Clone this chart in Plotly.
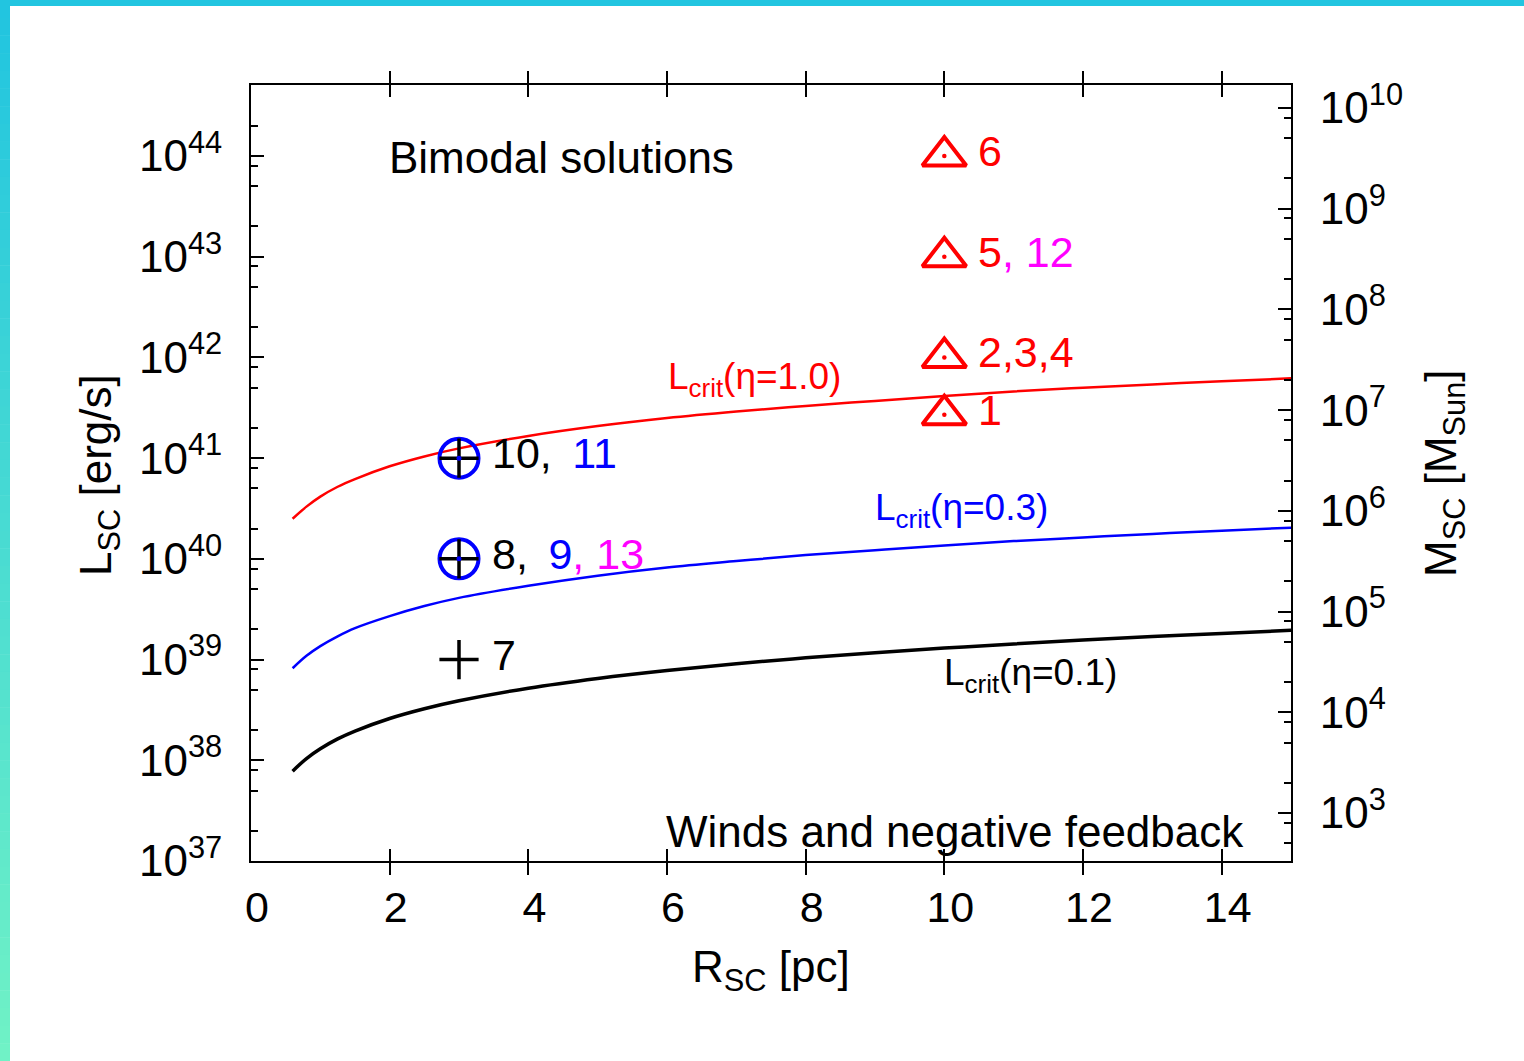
import numpy as np
import plotly.graph_objects as go

# ---------------- data ----------------
R_curve = [0.6, 0.8, 1.0, 1.25, 1.5, 2.0, 2.5, 3.0, 4.0, 5.0, 6.0, 7.0, 8.0, 9.0,
           10.0, 11.0, 12.0, 13.0, 14.0, 15.0]
L_eta10 = [2.5e40, 3.3e40, 4.15e40, 5.2e40, 6.2e40, 8.3e40, 1.04e41, 1.25e41, 1.66e41,
           2.08e41, 2.5e41, 2.9e41, 3.3e41, 3.7e41, 4.15e41, 4.6e41, 5.0e41, 5.4e41,
           5.8e41, 6.2e41]
L_eta03 = [8.2e38, 1.09e39, 1.36e39, 1.7e39, 2.05e39, 2.7e39, 3.4e39, 4.1e39, 5.4e39,
           6.8e39, 8.2e39, 9.5e39, 1.09e40, 1.22e40, 1.36e40, 1.5e40, 1.63e40, 1.77e40,
           1.9e40, 2.04e40]
L_eta01 = [7.8e37, 1.04e38, 1.3e38, 1.63e38, 1.95e38, 2.6e38, 3.25e38, 3.9e38, 5.2e38,
           6.5e38, 7.8e38, 9.1e38, 1.04e39, 1.17e39, 1.3e39, 1.43e39, 1.56e39, 1.69e39,
           1.82e39, 1.95e39]

tri_R = [10, 10, 10, 10]
tri_L = [2.7e41, 1e42, 1e43, 1e44]
tri_labels = ['<span style="color:#ff0000">1</span>',
              '<span style="color:#ff0000">2,3,4</span>',
              '<span style="color:#ff0000">5</span><span style="color:#ff00ff">, 12</span>',
              '<span style="color:#ff0000">6</span>']

circ_R = [3, 3]
circ_L = [1e41, 1e40]
circ_labels = ['<span style="color:#000000">10,\u00a0\u2009</span><span style="color:#0000ff">11</span>',
               '<span style="color:#000000">8,\u00a0\u2009</span><span style="color:#0000ff">9</span>'
               '<span style="color:#ff00ff">, 13</span>']

plus_R = [3]
plus_L = [1e39]
plus_labels = ['7']

left_exps = list(range(37, 45))
right_exps = list(range(3, 11))
minor_mults = [2, 5, 8]
M_range = [2.523, 10.228]
L_range = [37.0, 44.705]

FONT = "Liberation Sans, Arial, sans-serif"
W, H = 1524, 1061
ML, MR, MT, MB = 251, 233, 85, 200
PW, PH = W - ML - MR, H - MT - MB


def px(x):
    return (x - ML) / PW


def py(y):
    return (H - MB - y) / PH


fig = go.Figure()

# curves
for L, col, w in [(L_eta10, '#ff0000', 2.5), (L_eta03, '#0000ff', 2.5), (L_eta01, '#000000', 3.5)]:
    fig.add_trace(go.Scatter(x=R_curve, y=L, mode='lines', line=dict(color=col, width=w, shape='spline'),
                             showlegend=False, hoverinfo='skip'))

# triangles
fig.add_trace(go.Scatter(x=tri_R, y=tri_L, mode='markers',
                         marker=dict(symbol='triangle-up-open', size=38, color='#ff0000',
                                     line=dict(color='#ff0000', width=4)),
                         showlegend=False, hoverinfo='skip'))
fig.add_trace(go.Scatter(x=tri_R, y=tri_L, mode='markers',
                         marker=dict(symbol='circle', size=4.5, color='#ff0000'),
                         showlegend=False, hoverinfo='skip'))
# circles with cross
fig.add_trace(go.Scatter(x=circ_R, y=circ_L, mode='markers',
                         marker=dict(symbol='circle-open', size=39, color='#0000ff',
                                     line=dict(color='#0000ff', width=4)),
                         showlegend=False, hoverinfo='skip'))
fig.add_trace(go.Scatter(x=circ_R, y=circ_L, mode='markers',
                         marker=dict(symbol='cross-thin-open', size=28, color='#000000',
                                     line=dict(color='#000000', width=3.5)),
                         showlegend=False, hoverinfo='skip'))
fig.add_trace(go.Scatter(x=circ_R, y=circ_L, mode='markers',
                         marker=dict(symbol='circle', size=5, color='#0000ff'),
                         showlegend=False, hoverinfo='skip'))
# plus
fig.add_trace(go.Scatter(x=plus_R, y=plus_L, mode='markers',
                         marker=dict(symbol='cross-thin-open', size=28, color='#000000',
                                     line=dict(color='#000000', width=3.5)),
                         showlegend=False, hoverinfo='skip'))
# dummy trace for the right axis
fig.add_trace(go.Scatter(x=[], y=[], yaxis='y2', showlegend=False, hoverinfo='skip'))

ann = []
for R, L, t in zip(tri_R, tri_L, tri_labels):
    ann.append(dict(x=R, y=np.log10(L), text=t, xanchor='left', yanchor='middle',
                    xshift=32, yshift=5, showarrow=False, font=dict(size=43, family=FONT)))
for R, L, t in zip(circ_R, circ_L, circ_labels):
    ann.append(dict(x=R, y=np.log10(L), text=t, xanchor='left', yanchor='middle',
                    xshift=31, yshift=5, showarrow=False, font=dict(size=43, family=FONT)))
for R, L, t in zip(plus_R, plus_L, plus_labels):
    ann.append(dict(x=R, y=np.log10(L), text=t, xanchor='left', yanchor='middle',
                    xshift=31, yshift=5, showarrow=False, font=dict(size=43, family=FONT, color='black')))

# region labels
ann.append(dict(x=1.96, y=43.99, text='Bimodal solutions', xanchor='left', yanchor='middle',
                showarrow=False, font=dict(size=44, family=FONT, color='black')))
ann.append(dict(x=14.35, y=37.29, text='Winds and negative feedback', xanchor='right', yanchor='middle',
                showarrow=False, font=dict(size=44, family=FONT, color='black')))
# curve labels
for x, y, t, c in [(5.98, 41.79, 'L<sub>crit</sub>(\u03b7=1.0)', '#ff0000'),
                   (8.97, 40.49, 'L<sub>crit</sub>(\u03b7=0.3)', '#0000ff'),
                   (9.97, 38.85, 'L<sub>crit</sub>(\u03b7=0.1)', '#000000')]:
    ann.append(dict(x=x, y=y, text=t, xanchor='left', yanchor='middle', showarrow=False,
                    font=dict(size=37, family=FONT, color=c)))

# axis titles
ann.append(dict(xref='paper', yref='paper', x=px(771), y=py(970), text='R<sub>SC</sub> [pc]',
                xanchor='center', yanchor='middle', showarrow=False,
                font=dict(size=44, family=FONT, color='black')))
ann.append(dict(xref='paper', yref='paper', x=px(99), y=py(475), text='L<sub>SC</sub> [erg/s]',
                textangle=-90, xanchor='center', yanchor='middle', showarrow=False,
                font=dict(size=44, family=FONT, color='black')))
ann.append(dict(xref='paper', yref='paper', x=px(1444), y=py(473), text='M<sub>SC</sub> [M<sub>Sun</sub>]',
                textangle=-90, xanchor='center', yanchor='middle', showarrow=False,
                font=dict(size=44, family=FONT, color='black')))

# decorative border
shapes = [dict(type='rect', xref='paper', yref='paper', x0=px(0), x1=px(W), y0=py(6), y1=py(0),
               fillcolor='rgb(34,197,224)', line=dict(width=0), layer='above')]
n = 60
c0 = np.array([34, 197, 224])
c1 = np.array([112, 242, 198])
for i in range(n):
    t = i / (n - 1)
    c = (c0 * (1 - t) + c1 * t).astype(int)
    y0 = H * i / n
    y1 = H * (i + 1) / n + 0.5
    shapes.append(dict(type='rect', xref='paper', yref='paper', x0=px(0), x1=px(10), y0=py(y1), y1=py(y0),
                       fillcolor='rgb(%d,%d,%d)' % tuple(c), line=dict(width=0), layer='above'))

left_minor = [m * 10.0 ** e for e in range(36, 45) for m in minor_mults]
right_minor = [m * 10.0 ** e for e in range(2, 11) for m in minor_mults]

fig.update_layout(
    width=W, height=H,
    margin=dict(l=ML, r=MR, t=MT, b=MB, pad=0),
    paper_bgcolor='white', plot_bgcolor='white',
    font=dict(family=FONT, size=44, color='black'),
    xaxis=dict(range=[0, 15], tickvals=list(range(0, 15, 2)), ticks='inside', ticklen=12, tickwidth=2,
               tickcolor='black', showline=True, linewidth=2, linecolor='black', mirror='allticks',
               showgrid=False, zeroline=False, tickfont=dict(size=43, family=FONT),
               ticklabelstandoff=7, ticklabelshift=6),
    yaxis=dict(type='log', range=L_range, tickvals=[10.0 ** e for e in left_exps],
               ticktext=['10<sup>%d</sup>' % e for e in left_exps],
               ticks='inside', ticklen=13, tickwidth=2, tickcolor='black',
               minor=dict(tickvals=left_minor, ticks='inside', ticklen=7, tickwidth=2, tickcolor='black',
                          showgrid=False),
               showline=True, linewidth=2, linecolor='black', showgrid=False, zeroline=False,
               tickfont=dict(size=44, family=FONT), ticklabelstandoff=18),
    yaxis2=dict(type='log', range=M_range, overlaying='y', side='right',
                tickvals=[10.0 ** e for e in right_exps],
                ticktext=['10<sup>%d</sup>' % e for e in right_exps],
                ticks='inside', ticklen=13, tickwidth=2, tickcolor='black',
                minor=dict(tickvals=right_minor, ticks='inside', ticklen=7, tickwidth=2, tickcolor='black',
                           showgrid=False),
                showline=True, linewidth=2, linecolor='black', showgrid=False, zeroline=False,
                tickfont=dict(size=44, family=FONT), ticklabelstandoff=18),
    annotations=ann,
    shapes=shapes,
)

fig.write_html("out.html", config={'displayModeBar': False},
               post_script="document.body.style.margin='0';document.body.style.overflow='hidden';")
